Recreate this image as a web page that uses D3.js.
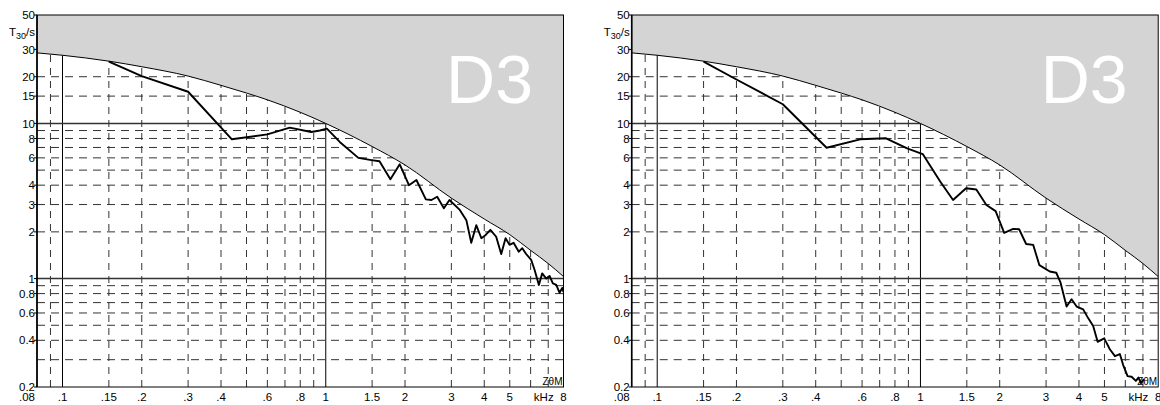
<!DOCTYPE html>
<html>
<head>
<meta charset="utf-8">
<script src="https://cdn.jsdelivr.net/npm/d3@7"></script>
<style>
body { margin: 0; background: #fff; }
svg text { font-family: "Liberation Sans", Arial, sans-serif; fill: #000; }
</style>
</head>
<body>
<svg width="1160" height="405"></svg>
<script>
// frequency axis (kHz)
var freqTicks = [0.08, 0.1, 0.15, 0.2, 0.3, 0.4, 0.6, 0.8, 1, 1.5, 2, 3, 4, 5, 6.73, 8];
var freqLabels = [".08", ".1", ".15", ".2", ".3", ".4", ".6", ".8", "1", "1.5", "2", "3", "4", "5", "kHz", "8"];
var freqGrid = [0.09, 0.15, 0.2, 0.3, 0.4, 0.5, 0.6, 0.7, 0.8, 0.9, 1.5, 2, 3, 4, 5, 6, 7];
var freqMajor = [0.1, 1];

// reverberation time axis (s)
var tTicks = [50, 30, 20, 15, 10, 8, 6, 4, 3, 2, 1, 0.8, 0.6, 0.4, 0.2];
var tLabels = ["50", "30", "20", "15", "10", "8", "6", "4", "3", "2", "1", "0.8", "0.6", "0.4", "0.2"];
var tGrid = [40, 30, 20, 15, 9, 8, 7, 6, 5, 4, 3, 2, 0.9, 0.8, 0.7, 0.6, 0.5, 0.4, 0.3];
var tMajor = [10, 1];

// upper limit (grey region above)
var limitCurve = [[0.08, 28.5], [0.1, 27.5], [0.15, 25.2], [0.2, 23.2], [0.3, 20.2], [0.4, 17.6],
  [0.5, 15.7], [0.6, 14.2], [0.8, 11.8], [1, 10], [1.5, 7.1], [2, 5.4], [3, 3.3], [4, 2.42],
  [5, 1.92], [6, 1.52], [7, 1.25], [8, 1.03]];

var seriesLeft = [[0.15, 25.0], [0.2, 20.2], [0.3, 16.0], [0.44, 7.9], [0.6, 8.5], [0.73, 9.4],
  [0.88, 8.8], [0.95, 9.0], [1.01, 9.25], [1.13, 7.6], [1.33, 6.0], [1.49, 5.8], [1.6, 5.7],
  [1.76, 4.36], [1.91, 5.45], [2.07, 4.0], [2.21, 4.32], [2.4, 3.24], [2.52, 3.21], [2.65, 3.37],
  [2.81, 2.84], [2.95, 3.21], [3.23, 2.77], [3.42, 2.38], [3.57, 1.7], [3.73, 2.21], [3.9, 1.82],
  [4.05, 1.91], [4.22, 2.06], [4.44, 1.86], [4.64, 1.44], [4.82, 1.82], [4.99, 1.65], [5.17, 1.7],
  [5.41, 1.49], [5.58, 1.57], [5.77, 1.44], [6.03, 1.32], [6.21, 1.14], [6.45, 0.91], [6.64, 1.08],
  [6.88, 1.0], [7.08, 1.04], [7.29, 0.93], [7.51, 0.91], [7.73, 0.81], [7.91, 0.87], [8, 0.82]];

var seriesRight = [[0.15, 25.0], [0.2, 19.2], [0.3, 13.3], [0.44, 6.97], [0.59, 7.9], [0.74, 8.02],
  [0.89, 6.91], [1.02, 6.35], [1.19, 4.21], [1.33, 3.21], [1.49, 3.82], [1.63, 3.75], [1.78, 2.98],
  [1.93, 2.72], [2.08, 1.97], [2.25, 2.09], [2.37, 2.08], [2.52, 1.67], [2.68, 1.65], [2.83, 1.22],
  [3.1, 1.11], [3.28, 1.09], [3.4, 0.95], [3.59, 0.66], [3.75, 0.735], [3.92, 0.66], [4.15, 0.633],
  [4.34, 0.554], [4.53, 0.494], [4.71, 0.391], [4.99, 0.412], [5.24, 0.35], [5.48, 0.316],
  [5.72, 0.326], [5.89, 0.277], [6.12, 0.235], [6.34, 0.233], [6.58, 0.219], [6.73, 0.23],
  [6.88, 0.212], [7.06, 0.225]];

var svg = d3.select("svg"),
    marginTop = 15,
    width = 526.5,
    height = 372;

var panels = [
  {id: "a", left: 37, data: seriesLeft},
  {id: "b", left: 631.7, data: seriesRight}
];

var x = d3.scaleLog().domain([0.08, 8]).range([0, width]),
    y = d3.scaleLog().domain([0.2, 50]).range([height, 0]);

var line = d3.line()
    .x(function(d) { return x(d[0]); })
    .y(function(d) { return y(d[1]); });

var limitLine = d3.line()
    .curve(d3.curveMonotoneX)
    .x(function(d) { return x(d[0]); })
    .y(function(d) { return y(d[1]); });

var limitArea = d3.area()
    .curve(d3.curveMonotoneX)
    .x(function(d) { return x(d[0]); })
    .y0(0)
    .y1(function(d) { return y(d[1]); });

panels.forEach(function(p) {
  var g = svg.append("g")
      .attr("transform", "translate(" + p.left + "," + marginTop + ")");

  g.append("clipPath")
      .attr("id", "clip-" + p.id)
    .append("rect")
      .attr("width", width)
      .attr("height", height);

  var plot = g.append("g").attr("clip-path", "url(#clip-" + p.id + ")");

  // dashed grid
  plot.selectAll(".vgrid")
      .data(freqGrid)
    .enter().append("line")
      .attr("x1", function(d) { return x(d); })
      .attr("x2", function(d) { return x(d); })
      .attr("y1", height)
      .attr("y2", 0)
      .attr("stroke", "#333")
      .attr("stroke-dasharray", "7,6");

  plot.selectAll(".hgrid")
      .data(tGrid)
    .enter().append("line")
      .attr("x1", 0)
      .attr("x2", width)
      .attr("y1", function(d) { return y(d); })
      .attr("y2", function(d) { return y(d); })
      .attr("stroke", "#333")
      .attr("stroke-dasharray", "8,6");

  plot.selectAll(".vmajor")
      .data(freqMajor)
    .enter().append("line")
      .attr("x1", function(d) { return x(d); })
      .attr("x2", function(d) { return x(d); })
      .attr("y1", 0)
      .attr("y2", height)
      .attr("stroke", "#000");

  plot.selectAll(".hmajor")
      .data(tMajor)
    .enter().append("line")
      .attr("x1", 0)
      .attr("x2", width)
      .attr("y1", function(d) { return y(d); })
      .attr("y2", function(d) { return y(d); })
      .attr("stroke", "#333")
      .attr("stroke-width", 1.4);

  // grey region above limit
  plot.append("path")
      .datum(limitCurve)
      .attr("d", limitArea)
      .attr("fill", "#d4d4d4");

  plot.append("path")
      .datum(limitCurve)
      .attr("d", limitLine)
      .attr("fill", "none")
      .attr("stroke", "#000")
      .attr("stroke-width", 1);

  plot.append("text")
      .attr("x", 496)
      .attr("y", 88)
      .attr("text-anchor", "end")
      .style("font-size", "68px")
      .style("fill", "#fff")
      .text("D3");

  plot.append("path")
      .datum(p.data)
      .attr("d", line)
      .attr("fill", "none")
      .attr("stroke", "#000")
      .attr("stroke-width", 1.9)
      .attr("stroke-linejoin", "round");

  plot.append("text")
      .attr("x", width - 1)
      .attr("y", height - 2)
      .attr("text-anchor", "end")
      .style("font-size", "10px")
      .text("ZθM");

  // frame
  g.append("rect")
      .attr("width", width)
      .attr("height", height)
      .attr("fill", "none")
      .attr("stroke", "#000");

  g.append("line")
      .attr("x1", 0).attr("x2", 0)
      .attr("y1", 0).attr("y2", height)
      .attr("stroke", "#000")
      .attr("stroke-width", 1.6);

  // y ticks + labels
  g.selectAll(".ytick")
      .data(tTicks)
    .enter().append("line")
      .attr("x1", -3).attr("x2", 0)
      .attr("y1", function(d) { return y(d); })
      .attr("y2", function(d) { return y(d); })
      .attr("stroke", "#000");

  g.selectAll(".ylab")
      .data(tTicks)
    .enter().append("text")
      .attr("x", -2)
      .attr("y", function(d) { return y(d); })
      .attr("dy", "0.36em")
      .attr("text-anchor", "end")
      .style("font-size", "11.5px")
      .text(function(d, i) { return tLabels[i]; });

  var ylab = g.append("text")
      .attr("x", -2)
      .attr("y", 21)
      .attr("text-anchor", "end")
      .style("font-size", "11.5px");
  ylab.append("tspan").text("T");
  ylab.append("tspan").attr("dy", 3).style("font-size", "9px").text("30");
  ylab.append("tspan").attr("dy", -3).text("/s");

  // x labels
  g.selectAll(".xlab")
      .data(freqTicks)
    .enter().append("text")
      .attr("x", function(d, i) { return i == 0 ? x(d) - 2 : x(d); })
      .attr("y", height + 14)
      .attr("text-anchor", function(d, i) { return i == 0 ? "end" : "middle"; })
      .style("font-size", "11.5px")
      .text(function(d, i) { return freqLabels[i]; });
});
</script>
</body>
</html>
